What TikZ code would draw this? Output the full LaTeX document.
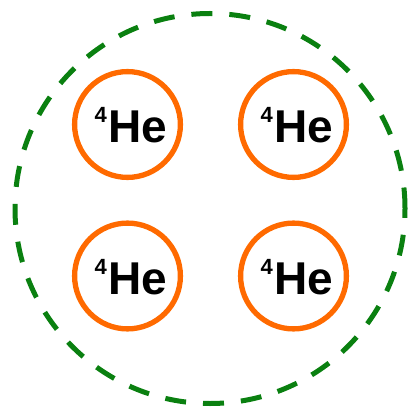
\documentclass[tikz,border=0pt]{standalone}
\usepackage{fontspec}
\setmainfont{Liberation Sans}
\definecolor{heorange}{HTML}{FF6A00}
\definecolor{dashgreen}{HTML}{0A8010}
\tikzset{
  atom/.style={circle, draw=heorange, line width=5.3pt, minimum size=105.8pt, inner sep=0pt},
  shell/.style={circle, draw=dashgreen, line width=5pt, minimum size=390pt, inner sep=0pt, dash pattern=on 21pt off 17pt},
  helbl/.style={anchor=base west, inner sep=0pt, font=\bfseries}
}
\newcommand{\heliumfour}{{\fontsize{22}{22}\selectfont\raisebox{20pt}{4}}\kern1.5pt{\fontsize{46}{46}\selectfont He}}
\begin{document}
\begin{tikzpicture}[x=1pt,y=-1pt]
\useasboundingbox (0,0) rectangle (411,411);
\node[shell] (nucleus) at (210,208.5) {};
\node[atom] (a1) at (127.5,124.5) {};
\node[atom] (a2) at (293.5,124.5) {};
\node[atom] (a3) at (127.5,276) {};
\node[atom] (a4) at (293.5,276) {};
\node[helbl] (t1) at ([shift={(-33,18.5)}]a1.center) {\heliumfour};
\node[helbl] (t2) at ([shift={(-33,18.5)}]a2.center) {\heliumfour};
\node[helbl] (t3) at ([shift={(-33,18.5)}]a3.center) {\heliumfour};
\node[helbl] (t4) at ([shift={(-33,18.5)}]a4.center) {\heliumfour};
\end{tikzpicture}
\end{document}
